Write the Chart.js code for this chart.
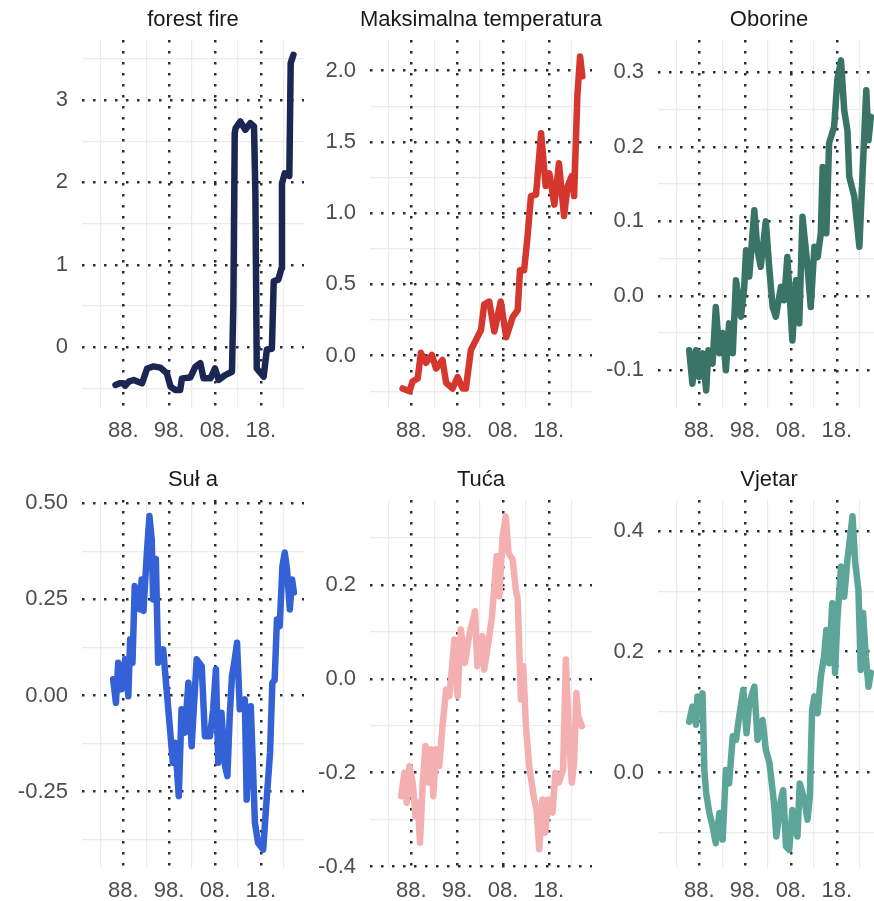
<!DOCTYPE html>
<html>
<head>
<meta charset="utf-8">
<title>Trendovi</title>
<script src="https://cdn.jsdelivr.net/npm/chart.js@4.4.1/dist/chart.umd.min.js"></script>
<style>
  html, body { margin: 0; padding: 0; background: #fff; overflow: hidden; width: 874px; height: 901px; }
  canvas { position: absolute; }
</style>
</head>
<body>
<canvas id="p0"></canvas>
<canvas id="p1"></canvas>
<canvas id="p2"></canvas>
<canvas id="p3"></canvas>
<canvas id="p4"></canvas>
<canvas id="p5"></canvas>
<script>
"use strict";

// shared x axis (years)
var YEAR_MIN = 1979.0;
var YEAR_MAX = 2027.4;
var X_TICKS = [1988, 1998, 2008, 2018];
var X_TICK_LABELS = ["88.", "98.", "08.", "18."];
var X_MINOR = [1983, 1993, 2003, 2013, 2023];

var PANEL_TITLES = ["forest fire", "Maksimalna temperatura", "Oborine", "Suł a", "Tuća", "Vjetar"];

// forest fire
var FIRE_YEARS = [1986.3, 1987.2, 1988.0, 1988.4, 1989.2, 1990.3, 1991.2, 1992.1, 1993.2, 1994.6,
    1996.1, 1997.5, 1998.3, 1999.3, 2000.4, 2000.8, 2002.6, 2003.7, 2004.8, 2005.5,
    2007.0, 2008.0, 2008.8, 2010.2, 2011.7, 2012.0, 2012.3, 2012.5, 2013.5, 2014.6,
    2015.7, 2016.5, 2016.8, 2017.1, 2018.6, 2019.3, 2020.4, 2020.8, 2021.8, 2022.5,
    2022.6, 2023.2, 2024.2, 2024.5, 2025.1];
var FIRE_VALUES = [-0.46, -0.44, -0.44, -0.47, -0.42, -0.40, -0.42, -0.44, -0.26, -0.235,
    -0.25, -0.32, -0.48, -0.52, -0.52, -0.38, -0.37, -0.24, -0.195, -0.38,
    -0.38, -0.26, -0.40, -0.34, -0.30, 0.53, 2.60, 2.66, 2.74, 2.64,
    2.72, 2.68, 1.87, -0.26, -0.36, -0.03, -0.02, 0.80, 0.82, 0.96,
    1.99, 2.11, 2.08, 3.45, 3.55];

// Maksimalna temperatura
var TMAX_YEARS = [1986.1, 1987.6, 1988.3, 1989.4, 1990.1, 1991.2, 1992.5, 1993.4, 1994.8, 1995.6,
    1997.0, 1998.1, 1999.2, 1999.9, 2001.0, 2002.1, 2003.2, 2003.9, 2005.0, 2006.1,
    2007.5, 2008.7, 2010.1, 2011.2, 2011.7, 2012.6, 2013.3, 2014.1, 2015.2, 2016.3,
    2017.3, 2018.1, 2019.2, 2020.2, 2021.3, 2022.1, 2023.0, 2023.5, 2024.2, 2024.8,
    2025.3];
var TMAX_VALUES = [-0.23, -0.25, -0.18, -0.16, 0.02, -0.05, 0.005, -0.09, -0.03, -0.19,
    -0.23, -0.15, -0.23, -0.23, 0.04, 0.11, 0.18, 0.36, 0.38, 0.17,
    0.38, 0.13, 0.27, 0.32, 0.60, 0.60, 0.82, 1.12, 1.13, 1.56,
    1.19, 1.28, 1.06, 1.35, 0.98, 1.19, 1.26, 1.12, 1.82, 2.10,
    1.96];

// Oborine
var RAIN_YEARS = [1985.8, 1986.5, 1987.3, 1988.0, 1988.7, 1989.5, 1990.0, 1990.9, 1991.6, 1992.4,
    1993.1, 1993.8, 1994.5, 1995.3, 1996.0, 1997.1, 1997.8, 1998.2, 1998.9, 2000.0,
    2000.7, 2001.4, 2002.5, 2003.3, 2004.0, 2004.7, 2005.8, 2006.5, 2007.2, 2008.3,
    2009.1, 2009.8, 2010.5, 2011.6, 2012.3, 2013.1, 2013.8, 2014.5, 2014.9, 2015.7,
    2016.3, 2017.4, 2018.1, 2018.9, 2019.6, 2020.3, 2020.7, 2021.8, 2022.9, 2023.6,
    2024.4, 2024.9, 2025.4];
var RAIN_VALUES = [-0.073, -0.118, -0.073, -0.109, -0.077, -0.127, -0.073, -0.091, -0.015, -0.077,
    -0.05, -0.10, -0.037, -0.077, 0.021, -0.028, 0.012, 0.061, 0.026, 0.115,
    0.061, 0.039, 0.10, 0.034, -0.015, -0.028, 0.012, -0.006, 0.052, -0.06,
    0.021, -0.037, 0.106, 0.039, -0.015, 0.066, 0.052, 0.084, 0.173, 0.084,
    0.205, 0.227, 0.29, 0.316, 0.249, 0.222, 0.16, 0.133, 0.066, 0.164,
    0.276, 0.209, 0.24];

// Suł a
var DRY_YEARS = [1985.8, 1986.4, 1986.9, 1987.6, 1988.4, 1989.1, 1989.5, 1990.0, 1990.5, 1991.6,
    1992.0, 1992.4, 1993.1, 1993.7, 1994.2, 1994.5, 1995.1, 1995.6, 1996.7, 1997.5,
    1998.2, 1998.8, 1999.3, 2000.1, 2000.7, 2001.4, 2002.2, 2002.9, 2004.0, 2005.1,
    2005.8, 2006.9, 2007.6, 2008.2, 2008.7, 2009.4, 2010.2, 2010.7, 2011.2, 2011.7,
    2012.3, 2012.8, 2013.4, 2014.5, 2014.9, 2015.8, 2016.7, 2017.4, 2018.5, 2019.2,
    2020.0, 2020.5, 2021.0, 2021.5, 2022.1, 2022.7, 2023.2, 2023.7, 2024.3, 2024.8,
    2025.2];
var DRY_VALUES = [0.042, -0.019, 0.085, 0.016, 0.094, -0.002, 0.146, 0.085, 0.285, 0.224,
    0.302, 0.22, 0.363, 0.467, 0.407, 0.25, 0.355, 0.085, 0.12, 0.007,
    -0.089, -0.175, -0.123, -0.262, -0.036, -0.097, 0.033, -0.132, 0.094, 0.076,
    -0.106, -0.106, -0.036, 0.068, -0.175, -0.045, -0.184, -0.21, -0.054, 0.05,
    0.094, 0.137, -0.036, -0.01, -0.271, -0.028, -0.332, -0.384, -0.401, -0.28,
    -0.149, 0.033, 0.04, 0.198, 0.18, 0.337, 0.372, 0.328, 0.224, 0.302,
    0.268];

// Tuća
var HAIL_YEARS = [1985.8, 1986.5, 1987.0, 1987.6, 1988.3, 1988.9, 1989.4, 1989.9, 1990.5, 1991.1,
    1991.8, 1992.3, 1992.8, 1993.4, 1994.1, 1994.8, 1995.6, 1996.3, 1996.9, 1997.4,
    1998.1, 1998.8, 1999.7, 2000.6, 2001.9, 2002.4, 2003.5, 2003.9, 2004.8, 2005.6,
    2006.6, 2007.2, 2007.9, 2008.6, 2009.2, 2010.1, 2010.8, 2011.2, 2011.9, 2012.4,
    2013.0, 2013.7, 2014.8, 2015.3, 2015.9, 2016.6, 2017.2, 2017.9, 2018.8, 2019.4,
    2020.2, 2021.1, 2021.7, 2022.3, 2023.0, 2023.5, 2024.0, 2024.4, 2025.2];
var HAIL_VALUES = [-0.25, -0.20, -0.264, -0.186, -0.221, -0.292, -0.264, -0.349, -0.221, -0.143,
    -0.221, -0.15, -0.25, -0.15, -0.186, -0.101, -0.023, -0.037, 0.027, 0.084,
    -0.037, 0.105, 0.034, 0.091, 0.144, 0.027, 0.091, 0.02, 0.077, 0.133,
    0.261, 0.176, 0.303, 0.346, 0.268, 0.254, 0.19, 0.169, -0.044, 0.027,
    -0.101, -0.186, -0.257, -0.278, -0.363, -0.257, -0.328, -0.257, -0.285, -0.20,
    -0.221, -0.193, 0.041, -0.108, -0.221, -0.178, -0.03, -0.08, -0.101];

// Vjetar
var WIND_YEARS = [1985.8, 1986.5, 1987.3, 1987.6, 1988.4, 1988.7, 1989.1, 1989.5, 1990.2, 1990.9,
    1991.6, 1992.4, 1993.1, 1993.8, 1994.5, 1995.3, 1996.0, 1996.7, 1997.6, 1998.3,
    1998.9, 2000.0, 2000.7, 2001.8, 2002.5, 2003.3, 2004.3, 2004.8, 2005.8, 2006.3,
    2006.9, 2007.6, 2008.3, 2009.4, 2009.9, 2010.9, 2011.6, 2012.1, 2012.6, 2013.1,
    2013.8, 2014.5, 2015.2, 2015.7, 2016.3, 2017.0, 2017.6, 2018.1, 2018.9, 2019.6,
    2020.3, 2020.9, 2021.4, 2022.0, 2022.7, 2023.2, 2023.7, 2024.3, 2024.9, 2025.4];
var WIND_VALUES = [0.084, 0.109, 0.079, 0.126, 0.115, 0.131, 0.004, -0.034, -0.067, -0.089,
    -0.117, -0.067, -0.111, 0.004, -0.018, 0.06, 0.054, 0.093, 0.137, 0.065,
    0.115, 0.142, 0.054, 0.087, 0.038, 0.016, -0.051, -0.106, -0.045, -0.029,
    -0.122, -0.128, -0.062, -0.106, -0.018, -0.045, -0.078, -0.04, 0.104, 0.126,
    0.098, 0.159, 0.192, 0.236, 0.181, 0.28, 0.165, 0.253, 0.341, 0.291,
    0.352, 0.391, 0.424, 0.347, 0.302, 0.17, 0.264, 0.192, 0.142, 0.165];

// y tick values per panel
var FIRE_TICKS = [0, 1, 2, 3];
var FIRE_MINOR = [-0.5, 0.5, 1.5, 2.5, 3.5];
var TMAX_TICKS = [0, 0.5, 1, 1.5, 2];
var TMAX_MINOR = [-0.25, 0.25, 0.75, 1.25, 1.75];
var RAIN_TICKS = [-0.1, 0, 0.1, 0.2, 0.3];
var RAIN_MINOR = [-0.05, 0.05, 0.15, 0.25];
var DRY_TICKS = [-0.25, 0, 0.25, 0.5];
var DRY_MINOR = [-0.375, -0.125, 0.125, 0.375];
var HAIL_TICKS = [-0.4, -0.2, 0, 0.2];
var HAIL_MINOR = [-0.3, -0.1, 0.1, 0.3];
var WIND_TICKS = [0, 0.2, 0.4];
var WIND_MINOR = [-0.1, 0.1, 0.3];

var FONT = "'Liberation Sans', Arial, Helvetica, sans-serif";
var MAJOR_GRID = "#262d3b";
var MINOR_GRID = "#ebebeb";

var panels = [
    {id: "p0", left: 0, top: 0, years: FIRE_YEARS, values: FIRE_VALUES, color: "#1c2653",
        yMin: -0.74, yMax: 3.73, ticks: FIRE_TICKS, minor: FIRE_MINOR, decimals: 0},
    {id: "p1", left: 288, top: 0, years: TMAX_YEARS, values: TMAX_VALUES, color: "#d5372f",
        yMin: -0.367, yMax: 2.215, ticks: TMAX_TICKS, minor: TMAX_MINOR, decimals: 1},
    {id: "p2", left: 576, top: 0, years: RAIN_YEARS, values: RAIN_VALUES, color: "#3a7466",
        yMin: -0.1506, yMax: 0.3434, ticks: RAIN_TICKS, minor: RAIN_MINOR, decimals: 1},
    {id: "p3", left: 0, top: 460, years: DRY_YEARS, values: DRY_VALUES, color: "#3461d5",
        yMin: -0.449, yMax: 0.5087, ticks: DRY_TICKS, minor: DRY_MINOR, decimals: 2},
    {id: "p4", left: 288, top: 460, years: HAIL_YEARS, values: HAIL_VALUES, color: "#f4b0b0",
        yMin: -0.403, yMax: 0.381, ticks: HAIL_TICKS, minor: HAIL_MINOR, decimals: 1},
    {id: "p5", left: 576, top: 460, years: WIND_YEARS, values: WIND_VALUES, color: "#5da598",
        yMin: -0.158, yMax: 0.451, ticks: WIND_TICKS, minor: WIND_MINOR, decimals: 1}
];

function fixedTicks(list) {
    return function (scale) {
        scale.ticks = list.map(function (v) { return {value: v}; });
    };
}

function drawPanel(p, idx) {
    var canvas = document.getElementById(p.id);
    // 82px of labels on the left, mirrored by an empty right axis so the
    // title stays centred over the plot area
    canvas.width = 386;
    canvas.height = 448;
    canvas.style.left = p.left + "px";
    canvas.style.top = p.top + "px";

    var points = p.years.map(function (yr, i) {
        return {x: yr, y: p.values[i]};
    });
    var tickFont = {family: FONT, size: 22};

    return new Chart(canvas.getContext("2d"), {
        type: "line",
        data: {
            datasets: [{
                data: points,
                xAxisID: "x",
                yAxisID: "y",
                borderColor: p.color,
                borderWidth: 6.5,
                pointRadius: 0,
                tension: 0,
                borderJoinStyle: "round",
                borderCapStyle: "round",
                clip: false
            }]
        },
        options: {
            responsive: false,
            animation: false,
            devicePixelRatio: 1,
            layout: {padding: 0},
            plugins: {
                legend: {display: false},
                tooltip: {enabled: false},
                title: {
                    display: true, text: PANEL_TITLES[idx], color: "#1a1a1a",
                    font: {family: FONT, size: 22, weight: "normal"},
                    padding: {top: 7, bottom: 6.6}
                }
            },
            scales: {
                // light minor grid lines
                xMinor: {
                    type: "linear", position: "top", min: YEAR_MIN, max: YEAR_MAX,
                    afterBuildTicks: fixedTicks(X_MINOR),
                    afterFit: function (s) { s.height = 0; },
                    ticks: {display: false},
                    grid: {color: MINOR_GRID, lineWidth: 1.2, drawTicks: false, z: -2},
                    border: {display: false}
                },
                yMinor: {
                    type: "linear", position: "right", min: p.yMin, max: p.yMax,
                    afterBuildTicks: fixedTicks(p.minor),
                    afterFit: function (s) { s.width = 82; },
                    ticks: {display: false},
                    grid: {color: MINOR_GRID, lineWidth: 1.2, drawTicks: false, z: -2},
                    border: {display: false}
                },
                x: {
                    type: "linear", position: "bottom", min: YEAR_MIN, max: YEAR_MAX,
                    afterBuildTicks: fixedTicks(X_TICKS),
                    afterFit: function (s) { s.height = 40; },
                    ticks: {
                        font: tickFont, color: "#4d4d4d", padding: 10,
                        maxRotation: 0, autoSkip: false,
                        callback: function (v) { return X_TICK_LABELS[X_TICKS.indexOf(v)]; }
                    },
                    grid: {color: MAJOR_GRID, lineWidth: 2.5, drawTicks: false},
                    border: {display: false, dash: [2.5, 8.5]}
                },
                y: {
                    type: "linear", position: "left", min: p.yMin, max: p.yMax,
                    afterBuildTicks: fixedTicks(p.ticks),
                    afterFit: function (s) { s.width = 82; },
                    ticks: {
                        font: tickFont, color: "#4d4d4d", padding: 14, autoSkip: false,
                        callback: function (v) { return v.toFixed(p.decimals); }
                    },
                    grid: {color: MAJOR_GRID, lineWidth: 2.5, drawTicks: false},
                    border: {display: false, dash: [2.5, 8.5]}
                }
            }
        }
    });
}

panels.forEach(drawPanel);
</script>
</body>
</html>
